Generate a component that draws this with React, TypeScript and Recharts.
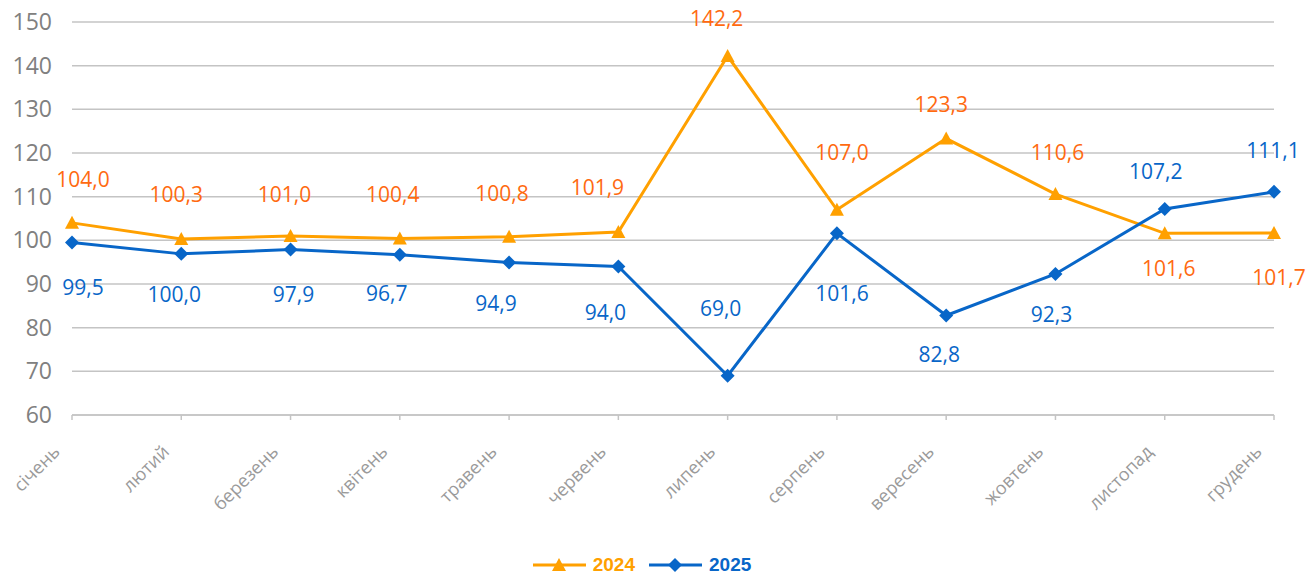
import React from 'react';
import {
  LineChart,
  Line,
  XAxis,
  YAxis,
  CartesianGrid,
  Legend,
  LabelList,
} from 'recharts';

const months = [
  'січень', 'лютий', 'березень', 'квітень', 'травень', 'червень',
  'липень', 'серпень', 'вересень', 'жовтень', 'листопад', 'грудень',
];

const values2024 = [104.0, 100.3, 101.0, 100.4, 100.8, 101.9, 142.2, 107.0, 123.3, 110.6, 101.6, 101.7];
const values2025 = [99.5, 96.9, 97.9, 96.7, 94.9, 94.0, 69.0, 101.6, 82.8, 92.3, 107.2, 111.1];

// label texts as printed on the chart
const labels2024 = ['104,0', '100,3', '101,0', '100,4', '100,8', '101,9', '142,2', '107,0', '123,3', '110,6', '101,6', '101,7'];
const labels2025 = ['99,5', '100,0', '97,9', '96,7', '94,9', '94,0', '69,0', '101,6', '82,8', '92,3', '107,2', '111,1'];

const yTicks = [60, 70, 80, 90, 100, 110, 120, 130, 140, 150];

// where each data label sits relative to its point (layout only)
const labelShift2024 = [
  [11, -44], [-5, -45], [-6, -42], [-7, -45], [-7, -44], [-21, -45],
  [-11, -38], [5, -58], [-5, -35], [2, -42], [4, 35], [5, 44],
];
const labelShift2025 = [
  [11, 44], [-7, 40], [3, 44], [-13, 38], [-13, 40], [-13, 45],
  [-7, -68], [5, 60], [-7, 39], [-4, 40], [-9, -38], [-1, -42],
];

const ORANGE = '#ffa000';
const ORANGE_TEXT = '#ff6a10';
const BLUE = '#0866c8';
const GRID = '#c4c4c4';
const AXIS_TEXT = '#808080';
const MONTH_TEXT = '#9a9a9a';

const data = months.map((m, i) => ({
  month: m,
  v2024: values2024[i],
  v2025: values2025[i],
  l2024: labels2024[i],
  l2025: labels2025[i],
}));

function Triangle({ cx, cy }: any) {
  if (cx == null || cy == null) return null;
  return <path d={`M${cx},${cy - 7} L${cx + 7},${cy + 6} L${cx - 7},${cy + 6} Z`} fill={ORANGE} />;
}

function Diamond({ cx, cy }: any) {
  if (cx == null || cy == null) return null;
  return <path d={`M${cx},${cy - 7} L${cx + 7},${cy} L${cx},${cy + 7} L${cx - 7},${cy} Z`} fill={BLUE} />;
}

function makeLabel(shifts: number[][], color: string) {
  // eslint-disable-next-line @typescript-eslint/no-explicit-any
  return (props: any) => {
    const { x, y, index, value } = props;
    const [dx, dy] = shifts[index] ?? [0, -40];
    return (
      <text
        x={x + dx}
        y={y + dy}
        textAnchor="middle"
        dominantBaseline="central"
        fill={color}
        fontSize={21}
        fontFamily="'Open Sans', sans-serif"
      >
        {value}
      </text>
    );
  };
}

function MonthTick({ x, y, payload }: any) {
  return (
    <g transform={`translate(${x - 11},${y + 31})`}>
      <text
        textAnchor="end"
        transform="rotate(-45)"
        fill={MONTH_TEXT}
        fontSize={18}
        fontFamily="'Open Sans', sans-serif"
      >
        {payload.value}
      </text>
    </g>
  );
}

function LegendContent() {
  const item = (label: string, color: string, marker: React.ReactNode) => (
    <div style={{ display: 'flex', alignItems: 'center', gap: 7 }}>
      <svg width={53} height={16}>
        <line x1={0} y1={8} x2={53} y2={8} stroke={color} strokeWidth={3} />
        {marker}
      </svg>
      <span style={{ color }}>{label}</span>
    </div>
  );
  return (
    <div style={{
      display: 'flex',
      justifyContent: 'center',
      alignItems: 'center',
      gap: 14,
      height: 30,
      paddingLeft: 10,
      fontFamily: "'Liberation Sans', Arial, sans-serif",
      fontWeight: 'bold',
      fontSize: 19,
    }}>
      {item('2024', ORANGE, <path d="M26,1 L33,14 L19,14 Z" fill={ORANGE} />)}
      {item('2025', BLUE, <path d="M26,1 L33,8 L26,15 L19,8 Z" fill={BLUE} />)}
    </div>
  );
}

export default function App() {
  return (
    <div style={{ position: 'absolute', left: 0, top: 0, background: '#fff' }}>
      <LineChart
        width={1315}
        height={580}
        data={data}
        margin={{ top: 22, right: 41, left: 0, bottom: 0 }}
      >
        <CartesianGrid vertical={false} stroke={GRID} strokeWidth={1.5} />
        <XAxis
          dataKey="month"
          interval={0}
          height={135}
          stroke={GRID}
          strokeWidth={1.5}
          tickSize={5}
          tick={<MonthTick />}
        />
        <YAxis
          domain={[60, 150]}
          ticks={yTicks}
          width={72}
          axisLine={false}
          tickLine={false}
          tickSize={0}
          tickMargin={20}
          tick={{ fill: AXIS_TEXT, fontSize: 23, fontFamily: "'Open Sans', sans-serif" }}
        />
        <Legend verticalAlign="bottom" height={30} content={<LegendContent />} />
        <Line
          dataKey="v2024"
          name="2024"
          stroke={ORANGE}
          strokeWidth={3}
          dot={<Triangle />}
          activeDot={false}
          isAnimationActive={false}
        >
          <LabelList dataKey="l2024" content={makeLabel(labelShift2024, ORANGE_TEXT)} />
        </Line>
        <Line
          dataKey="v2025"
          name="2025"
          stroke={BLUE}
          strokeWidth={3}
          dot={<Diamond />}
          activeDot={false}
          isAnimationActive={false}
        >
          <LabelList dataKey="l2025" content={makeLabel(labelShift2025, BLUE)} />
        </Line>
      </LineChart>
    </div>
  );
}
